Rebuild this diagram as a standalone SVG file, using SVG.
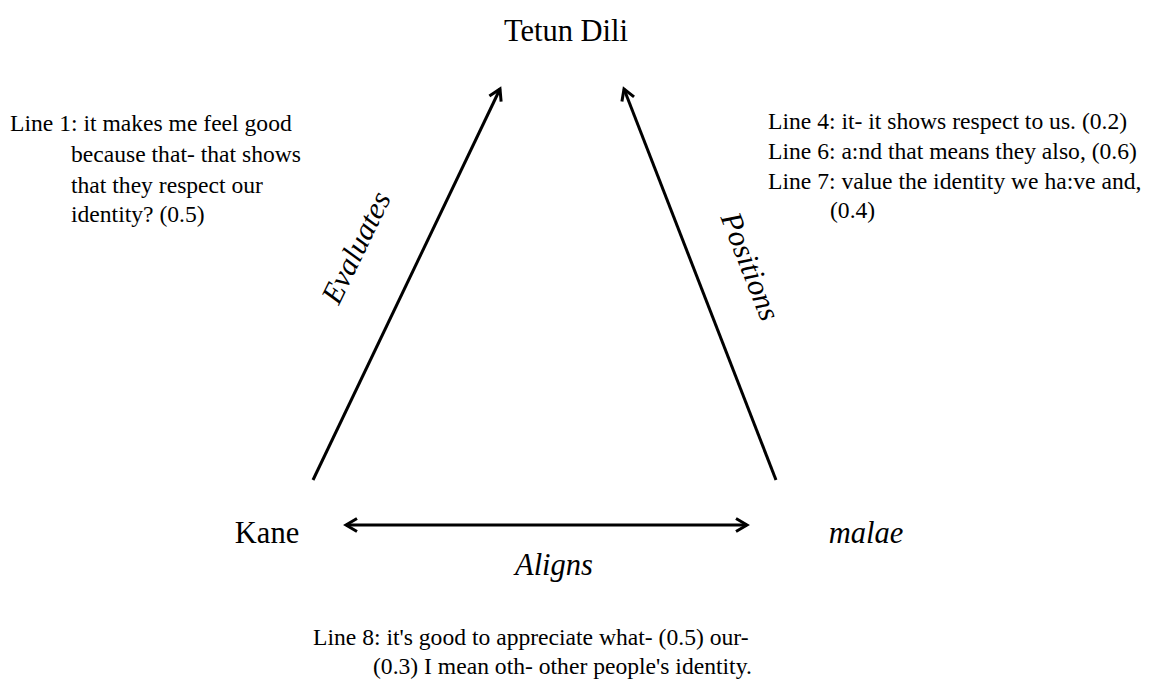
<svg xmlns="http://www.w3.org/2000/svg" width="1149" height="681" viewBox="0 0 1149 681">
<style>
text{font-family:"Liberation Serif","Times New Roman",serif;fill:#000}
.node{font-size:30.5px}
.lbl{font-size:30.5px;font-style:italic}
.q{font-size:23.6px}
.conn{stroke:#000;stroke-width:3;fill:none}
</style>
<defs>
<marker id="ah" viewBox="0 0 16 16" refX="14" refY="8" markerWidth="16" markerHeight="16" markerUnits="userSpaceOnUse" orient="auto-start-reverse" overflow="visible">
<path d="M3,1.5 L14,8 L3,14.5" fill="none" stroke="#000" stroke-width="3"/>
</marker>
</defs>
<rect width="1149" height="681" fill="#fff"/>
<g id="connectors">
<line class="conn" x1="313" y1="480" x2="500" y2="89" marker-end="url(#ah)"/>
<line class="conn" x1="776" y1="480" x2="624" y2="89" marker-end="url(#ah)"/>
<line class="conn" x1="346" y1="525" x2="747" y2="525" marker-start="url(#ah)" marker-end="url(#ah)"/>
</g>
<g id="node-tetun"><text class="node" x="566" y="41" text-anchor="middle">Tetun Dili</text></g>
<g id="node-kane"><text class="node" x="267" y="543" text-anchor="middle">Kane</text></g>
<g id="node-malae"><text class="node" x="866" y="543" text-anchor="middle" font-style="italic" font-size="31.5px">malae</text></g>
<g id="label-evaluates"><text class="lbl" text-anchor="middle" transform="translate(365,252) rotate(-64)">Evaluates</text></g>
<g id="label-positions"><text class="lbl" text-anchor="middle" transform="translate(741,270) rotate(68.5)">Positions</text></g>
<g id="label-aligns"><text class="lbl" x="554" y="575" text-anchor="middle">Aligns</text></g>
<g id="quote-1">
<text class="q" x="10" y="131">Line 1: it makes me feel good</text>
<text class="q" x="71" y="162">because that- that shows</text>
<text class="q" x="71" y="193">that they respect our</text>
<text class="q" x="71" y="222">identity? (0.5)</text>
</g>
<g id="quote-2">
<text class="q" x="768" y="129">Line 4: it- it shows respect to us. (0.2)</text>
<text class="q" x="768" y="159">Line 6: a:nd that means they also, (0.6)</text>
<text class="q" x="768" y="189">Line 7: value the identity we ha:ve and,</text>
<text class="q" x="830" y="218">(0.4)</text>
</g>
<g id="quote-3">
<text class="q" x="313" y="645">Line 8: it's good to appreciate what- (0.5) our-</text>
<text class="q" x="373" y="674">(0.3) I mean oth- other people's identity.</text>
</g>
</svg>
